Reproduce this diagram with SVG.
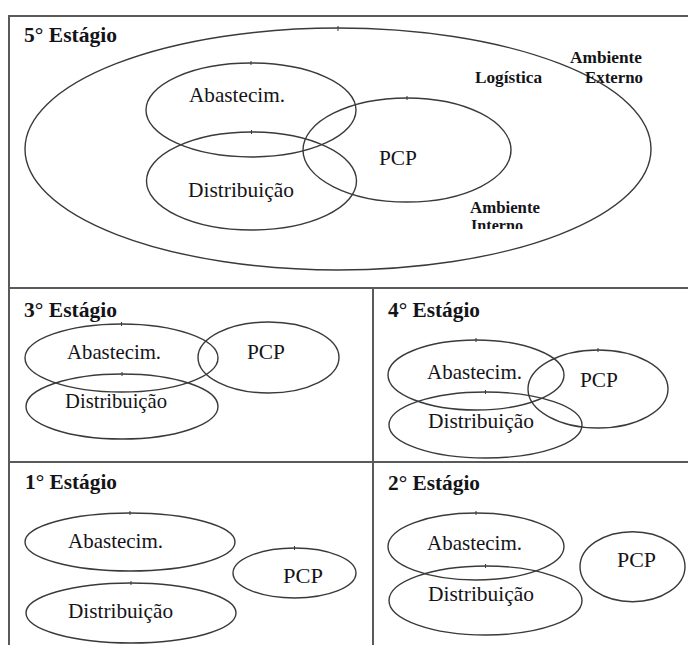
<svg xmlns="http://www.w3.org/2000/svg" width="688" height="645" viewBox="0 0 688 645">
<defs>
<style>
.frame{stroke:#5a5a5a;stroke-width:2;fill:none}
.el{fill:none;stroke:#3a3a3a;stroke-width:1.4}
.tick{stroke:#3a3a3a;stroke-width:1}
text{fill:#141418}
.lbl{font-size:21px}
.big{font-size:22px}
.stage{font-size:21px;font-weight:bold}
.amb{font-size:17px;font-weight:bold}
</style>
<clipPath id="clipInterno"><rect x="460" y="200" width="100" height="29"/></clipPath>
</defs>
<rect x="0" y="0" width="688" height="645" fill="#ffffff"/>
<g id="frame">
<line class="frame" x1="8" y1="16" x2="688" y2="16"/>
<line class="frame" x1="9" y1="15" x2="9" y2="645"/>
<line class="frame" x1="8" y1="288" x2="688" y2="288"/>
<line class="frame" x1="8" y1="462" x2="688" y2="462"/>
<line class="frame" x1="373" y1="288" x2="373" y2="645"/>
</g>
<g id="connectors"></g>

<g font-family="'Liberation Serif', 'DejaVu Serif', 'Noto Serif', serif">
<g id="stage5">
<text class="stage" x="24" y="42" textLength="93" lengthAdjust="spacingAndGlyphs">5° Estágio</text>
<g id="s5-logistica">
<ellipse class="el" cx="338" cy="149" rx="313" ry="121"/>
<line class="tick" x1="338" y1="26" x2="338" y2="31"/>
<text class="amb" x="475" y="83" textLength="67" lengthAdjust="spacingAndGlyphs">Logística</text>
</g>
<g id="s5-ambiente-externo">
<text class="amb" x="570" y="63" textLength="72" lengthAdjust="spacingAndGlyphs">Ambiente</text>
<text class="amb" x="585" y="83" textLength="58" lengthAdjust="spacingAndGlyphs">Externo</text>
</g>
<g id="s5-ambiente-interno">
<text class="amb" x="470" y="213" textLength="70" lengthAdjust="spacingAndGlyphs">Ambiente</text>
<text class="amb" x="471" y="230.5" textLength="52" lengthAdjust="spacingAndGlyphs" clip-path="url(#clipInterno)">Interno</text>
</g>
<g id="s5-abastecim">
<ellipse class="el" cx="251" cy="110" rx="105" ry="47"/>
<line class="tick" x1="251" y1="61" x2="251" y2="65"/>
<text class="lbl big" x="189" y="102" textLength="96" lengthAdjust="spacingAndGlyphs">Abastecim.</text>
</g>
<g id="s5-distribuicao">
<ellipse class="el" cx="251.5" cy="181" rx="105" ry="49"/>
<line class="tick" x1="251.5" y1="130" x2="251.5" y2="134"/>
<text class="lbl big" x="188" y="197" textLength="106" lengthAdjust="spacingAndGlyphs">Distribuição</text>
</g>
<g id="s5-pcp">
<ellipse class="el" cx="407" cy="150" rx="104" ry="52"/>
<line class="tick" x1="407" y1="96" x2="407" y2="100"/>
<text class="lbl big" x="379" y="165" textLength="38" lengthAdjust="spacingAndGlyphs">PCP</text>
</g>
</g>

<g id="stage3">
<text class="stage" x="24" y="317" textLength="93" lengthAdjust="spacingAndGlyphs">3° Estágio</text>
<g id="s3-abastecim">
<ellipse class="el" cx="121.5" cy="358" rx="96.5" ry="34"/>
<line class="tick" x1="121.5" y1="322" x2="121.5" y2="326"/>
<text class="lbl" x="67" y="359" textLength="94" lengthAdjust="spacingAndGlyphs">Abastecim.</text>
</g>
<g id="s3-pcp">
<ellipse class="el" cx="268.5" cy="357.5" rx="70.5" ry="35.5"/>
<text class="lbl" x="247" y="359" textLength="38" lengthAdjust="spacingAndGlyphs">PCP</text>
</g>
<g id="s3-distribuicao">
<ellipse class="el" cx="122" cy="406.5" rx="96" ry="32.5"/>
<line class="tick" x1="122" y1="372" x2="122" y2="376"/>
<text class="lbl" x="65" y="408" textLength="102" lengthAdjust="spacingAndGlyphs">Distribuição</text>
</g>
</g>

<g id="stage4">
<text class="stage" x="388" y="317" textLength="92" lengthAdjust="spacingAndGlyphs">4° Estágio</text>
<g id="s4-abastecim">
<ellipse class="el" cx="476" cy="375" rx="88" ry="35"/>
<line class="tick" x1="476" y1="338" x2="476" y2="342"/>
<text class="lbl" x="427" y="379" textLength="95" lengthAdjust="spacingAndGlyphs">Abastecim.</text>
</g>
<g id="s4-pcp">
<ellipse class="el" cx="598" cy="389" rx="70" ry="39"/>
<line class="tick" x1="598" y1="348" x2="598" y2="352"/>
<text class="lbl" x="580" y="387" textLength="38" lengthAdjust="spacingAndGlyphs">PCP</text>
</g>
<g id="s4-distribuicao">
<ellipse class="el" cx="485.5" cy="425" rx="96.5" ry="33"/>
<line class="tick" x1="485.5" y1="390" x2="485.5" y2="394"/>
<text class="lbl" x="428" y="428" textLength="106" lengthAdjust="spacingAndGlyphs">Distribuição</text>
</g>
</g>

<g id="stage1">
<text class="stage" x="25" y="489" textLength="92" lengthAdjust="spacingAndGlyphs">1° Estágio</text>
<g id="s1-abastecim">
<ellipse class="el" cx="130" cy="542" rx="105" ry="29"/>
<line class="tick" x1="130" y1="511" x2="130" y2="515"/>
<text class="lbl" x="68" y="548" textLength="95" lengthAdjust="spacingAndGlyphs">Abastecim.</text>
</g>
<g id="s1-pcp">
<ellipse class="el" cx="294.5" cy="573" rx="61.5" ry="25"/>
<line class="tick" x1="294.5" y1="546" x2="294.5" y2="550"/>
<text class="lbl" x="283" y="583" textLength="40" lengthAdjust="spacingAndGlyphs">PCP</text>
</g>
<g id="s1-distribuicao">
<ellipse class="el" cx="131" cy="613" rx="105" ry="30"/>
<line class="tick" x1="131" y1="581" x2="131" y2="585"/>
<text class="lbl" x="68" y="618" textLength="105" lengthAdjust="spacingAndGlyphs">Distribuição</text>
</g>
</g>

<g id="stage2">
<text class="stage" x="388" y="490" textLength="92" lengthAdjust="spacingAndGlyphs">2° Estágio</text>
<g id="s2-abastecim">
<ellipse class="el" cx="476" cy="546.5" rx="88" ry="33.5"/>
<line class="tick" x1="476" y1="511" x2="476" y2="515"/>
<text class="lbl" x="427" y="550" textLength="95" lengthAdjust="spacingAndGlyphs">Abastecim.</text>
</g>
<g id="s2-distribuicao">
<ellipse class="el" cx="485.5" cy="600.5" rx="96.5" ry="34.5"/>
<line class="tick" x1="485.5" y1="564" x2="485.5" y2="568"/>
<text class="lbl" x="428" y="601" textLength="106" lengthAdjust="spacingAndGlyphs">Distribuição</text>
</g>
<g id="s2-pcp">
<ellipse class="el" cx="632.5" cy="566.7" rx="52.5" ry="35"/>
<text class="lbl" x="617" y="567" textLength="39" lengthAdjust="spacingAndGlyphs">PCP</text>
</g>
</g>
</g>
</svg>
